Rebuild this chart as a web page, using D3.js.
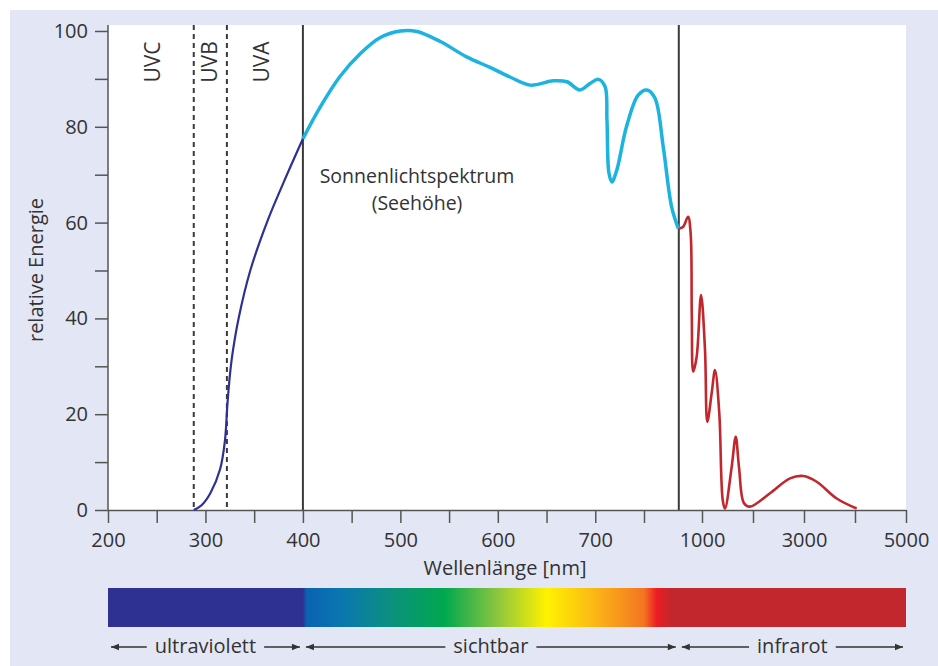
<!DOCTYPE html>
<html>
<head>
<meta charset="utf-8">
<script src="https://d3js.org/d3.v7.min.js"></script>
<style>
    body { margin: 0; background: #fff; }
    svg text { font-family: "Open Sans", "Noto Sans", sans-serif; fill: #333; }
</style>
</head>
<body>
<div id="chart"></div>
<script>
// wavelength [nm], relative energy
const uvCurve = [[288, 0], [296, 1], [305, 3.5], [315, 8.5], [320, 14.5], [322.5, 22], [325, 28],
    [328, 33], [334, 40], [346, 50], [363, 60], [380, 68.3], [400, 77.5]];
const visCurve = [[400, 77.5], [418, 84.2], [438, 90.5], [459, 95.3], [479, 98.6], [500, 100], [517, 99.9],
    [541, 97.8], [568, 94.6], [592, 92.4], [612.5, 90.4], [633, 88.7], [657, 89.6], [671, 89.4], [684, 87.7],
    [695, 89.1], [703, 89.9], [710, 88.4], [712, 81.4], [714, 70.4], [717, 68.5], [722, 70.9], [732, 80],
    [744, 86.6], [762, 87.7], [797, 86], [833, 75.8], [869, 63.3], [898, 58.8]];
const irCurve = [[898, 58.8], [918, 59.1], [940, 61.2], [951, 57.8], [956, 40.4], [962, 28.9], [977, 32],
    [996, 44.9], [1059, 33.4], [1104, 18.4], [1190, 24.4], [1255, 29.2], [1339, 20.2], [1406, 2.1],
    [1451, 0.3], [1582, 9], [1661, 15.3], [1725, 9], [1824, 1.4], [1941, 0.7], [2333, 3.5], [2725, 6.6],
    [2986, 7.1], [3249, 5.9], [3641, 2.4], [4033, 0.3]];

const xTicks = [200, 250, 300, 350, 400, 450, 500, 550, 600, 650, 700, 750, 1000, 2000, 3000, 4000, 5000];
const xTickLabels = [200, 300, 400, 500, 600, 700, 1000, 3000, 5000];
const yTicks = [0, 10, 20, 30, 40, 50, 60, 70, 80, 90, 100];
const yTickLabels = [0, 20, 40, 60, 80, 100];

const bandLines = [{nm: 288, dashed: true}, {nm: 322, dashed: true}, {nm: 400, dashed: false}, {nm: 900, dashed: false}];
const uvLabels = [{text: 'UVC', nm: 245}, {text: 'UVB', nm: 304}, {text: 'UVA', nm: 357}];
const ranges = [{text: 'ultraviolett', from: 200, to: 400}, {text: 'sichtbar', from: 400, to: 900},
    {text: 'infrarot', from: 900, to: 5000}];
const spectrumStops = [[200, '#2e3192'], [400, '#2e3192'], [404, '#0a63b1'], [440, '#0a77b0'],
    [492, '#0b917c'], [545, '#00a84f'], [600, '#8dc63f'], [650, '#fff200'], [700, '#fbb616'],
    [750, '#f37521'], [805, '#ed1c24'], [870, '#c1272d'], [5000, '#c1272d']];

const width = 938, height = 666;
const plot = {left: 108, right: 906, top: 25, bottom: 510};

const svg = d3.select('#chart').append('svg')
    .attr('width', width)
    .attr('height', height);

svg.append('rect')
    .attr('x', 10).attr('y', 10)
    .attr('width', width - 10).attr('height', height - 10)
    .attr('fill', '#e3e6f4');

svg.append('rect')
    .attr('x', plot.left).attr('y', plot.top)
    .attr('width', plot.right - plot.left).attr('height', plot.bottom - plot.top)
    .attr('fill', '#fff');

const x = d3.scaleLinear()
    .domain([200, 750, 1000, 5000])
    .range([108, 644, 702, 906]);

const y = d3.scaleLinear()
    .domain([0, 100])
    .range([510, 31]);

// band boundaries
svg.selectAll('.band')
    .data(bandLines)
    .join('line')
    .attr('x1', d => x(d.nm)).attr('x2', d => x(d.nm))
    .attr('y1', plot.top).attr('y2', plot.bottom)
    .attr('stroke', '#3a3a3a')
    .attr('stroke-width', 2)
    .attr('stroke-dasharray', d => d.dashed ? '5,4' : null);

svg.selectAll('.uv')
    .data(uvLabels)
    .join('text')
    .attr('transform', d => `translate(${x(d.nm) + 8}, 62) rotate(-90)`)
    .attr('text-anchor', 'middle')
    .attr('font-size', 21)
    .text(d => d.text);

// axes
const xAxis = svg.append('g')
    .attr('transform', `translate(0, ${plot.bottom})`)
    .call(d3.axisBottom(x).tickValues(xTicks).tickSize(13).tickSizeOuter(0)
        .tickFormat(d => xTickLabels.includes(d) ? d : ''));
xAxis.select('.domain').attr('stroke', '#555').attr('stroke-width', 1.5);
xAxis.selectAll('.tick line').attr('stroke', '#555').attr('stroke-width', 1.5);
xAxis.selectAll('.tick text').attr('font-size', 20).attr('fill', '#333').attr('dy', '1.05em')
    .attr('font-family', '"Open Sans", sans-serif');

const yAxis = svg.append('g')
    .attr('transform', `translate(${plot.left}, 0)`)
    .call(d3.axisLeft(y).tickValues(yTicks).tickSize(13).tickSizeOuter(0).tickPadding(7)
        .tickFormat(d => yTickLabels.includes(d) ? d : ''));
yAxis.select('.domain').attr('d', `M0,${plot.top}V${plot.bottom}`).attr('stroke', '#555').attr('stroke-width', 1.5);
yAxis.selectAll('.tick line').attr('stroke', '#555').attr('stroke-width', 1.5);
yAxis.selectAll('.tick text').attr('font-size', 20).attr('fill', '#333')
    .attr('font-family', '"Open Sans", sans-serif');

svg.append('text')
    .attr('x', 505).attr('y', 575)
    .attr('text-anchor', 'middle')
    .attr('font-size', 20)
    .text('Wellenlänge [nm]');

svg.append('text')
    .attr('transform', 'translate(43, 270) rotate(-90)')
    .attr('text-anchor', 'middle')
    .attr('font-size', 20)
    .text('relative Energie');

// curves
const line = d3.line()
    .x(d => x(d[0]))
    .y(d => y(d[1]))
    .curve(d3.curveCatmullRom.alpha(0.5));

svg.append('path').datum(uvCurve)
    .attr('d', line).attr('fill', 'none')
    .attr('stroke', '#2e3192').attr('stroke-width', 2.2);
svg.append('path').datum(irCurve)
    .attr('d', line).attr('fill', 'none')
    .attr('stroke', '#c1272d').attr('stroke-width', 2.6);
svg.append('path').datum(visCurve)
    .attr('d', line).attr('fill', 'none')
    .attr('stroke', '#1db3e0').attr('stroke-width', 3.5);

svg.append('text')
    .attr('x', 417).attr('y', 183)
    .attr('text-anchor', 'middle')
    .attr('font-size', 19.5)
    .text('Sonnenlichtspektrum');
svg.append('text')
    .attr('x', 417).attr('y', 210)
    .attr('text-anchor', 'middle')
    .attr('font-size', 19.5)
    .text('(Seehöhe)');

// spectrum bar
const x0 = x(200), x1 = x(5000);
const grad = svg.append('defs').append('linearGradient')
    .attr('id', 'spectrum')
    .attr('gradientUnits', 'userSpaceOnUse')
    .attr('x1', x0).attr('x2', x1).attr('y1', 0).attr('y2', 0);
grad.selectAll('stop')
    .data(spectrumStops)
    .join('stop')
    .attr('offset', d => (x(d[0]) - x0) / (x1 - x0))
    .attr('stop-color', d => d[1]);

svg.append('rect')
    .attr('x', x0).attr('y', 588)
    .attr('width', x1 - x0).attr('height', 39)
    .attr('fill', 'url(#spectrum)');

const defs = svg.select('defs');
defs.append('marker')
    .attr('id', 'head')
    .attr('viewBox', '0 0 10 10')
    .attr('refX', 10).attr('refY', 5)
    .attr('markerWidth', 10).attr('markerHeight', 8)
    .attr('markerUnits', 'userSpaceOnUse')
    .attr('orient', 'auto-start-reverse')
    .append('path')
    .attr('d', 'M0,1L10,5L0,9Z')
    .attr('fill', '#333');

ranges.forEach(r => {
    const a = x(r.from) + 3, b = x(r.to) - 3, mid = (x(r.from) + x(r.to)) / 2;
    const t = svg.append('text')
        .attr('x', mid).attr('y', 653)
        .attr('text-anchor', 'middle')
        .attr('font-size', 20)
        .text(r.text);
    const w = t.node().getComputedTextLength();
    svg.append('line')
        .attr('x1', mid - w / 2 - 8).attr('x2', a)
        .attr('y1', 647).attr('y2', 647)
        .attr('stroke', '#333').attr('stroke-width', 1.6)
        .attr('marker-end', 'url(#head)');
    svg.append('line')
        .attr('x1', mid + w / 2 + 8).attr('x2', b)
        .attr('y1', 647).attr('y2', 647)
        .attr('stroke', '#333').attr('stroke-width', 1.6)
        .attr('marker-end', 'url(#head)');
});
</script>
</body>
</html>
